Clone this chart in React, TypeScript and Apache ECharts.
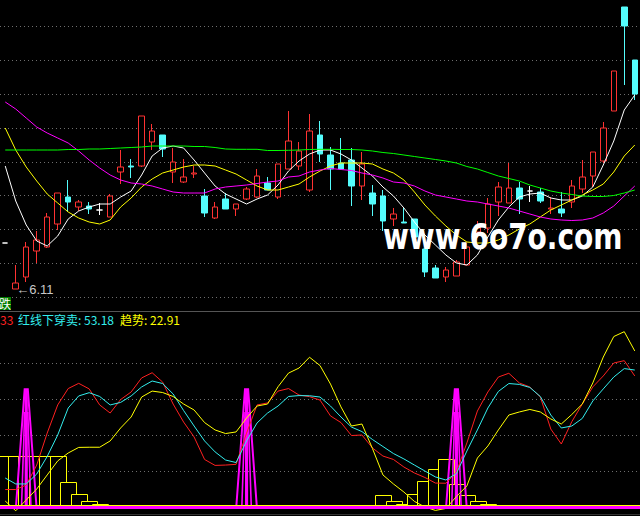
import React, { useEffect, useRef } from 'react';
import * as echarts from 'echarts';

// ---- categories (61 trading days visible) ----
const categories: string[] = Array.from({ length: 61 }, (_, i) => `K${i + 1}`);

// ---- candles ----
const openP = [6.57, 6.11, 6.23, 6.49, 6.53, 6.76, 7.03, 6.93, 6.94, 6.90,
  6.83, 7.28, 7.34, 7.34, 7.58, 7.65, 7.28, 7.18, 7.26, 7.04,
  6.82, 7.01, 6.91, 7.01, 7.03, 7.17, 7.03, 7.31, 7.34, 7.10,
  7.65, 7.45, 7.37, 7.40, 7.14, 7.07, 7.04, 6.81, 6.78, 6.81,
  6.51, 6.32, 6.23, 6.24, 6.35, 6.68, 6.72, 6.98, 6.97, 7.12,
  7.09, 7.08, 6.91, 6.91, 6.98, 7.11, 7.24, 7.39, 7.89, 8.93, 8.40];
const closeP = [6.57, 6.17, 6.53, 6.60, 6.83, 7.07, 6.98, 6.98, 6.91, 6.90,
  7.04, 7.33, 7.33, 7.84, 7.69, 7.51, 7.38, 7.23, 7.27, 6.87,
  6.93, 6.91, 6.96, 7.11, 7.24, 7.10, 7.36, 7.59, 7.49, 7.69,
  7.46, 7.31, 7.31, 7.14, 7.36, 6.96, 6.79, 6.86, 6.77, 6.63,
  6.28, 6.22, 6.30, 6.38, 6.53, 6.72, 6.96, 7.13, 7.12, 7.01,
  7.09, 6.99, 6.92, 6.87, 7.14, 7.23, 7.48, 7.72, 8.29, 8.74, 8.06];
const lowP = [6.57, 6.11, 6.18, 6.37, 6.52, 6.70, 6.88, 6.89, 6.86, 6.85,
  6.83, 7.16, 7.22, 7.33, 7.50, 7.43, 7.17, 7.17, 7.22, 6.83,
  6.81, 6.91, 6.84, 7.00, 7.02, 7.10, 7.01, 7.31, 7.30, 7.08,
  7.38, 7.10, 7.30, 6.94, 7.00, 6.84, 6.69, 6.74, 6.77, 6.62,
  6.23, 6.22, 6.18, 6.24, 6.35, 6.62, 6.67, 6.84, 6.97, 6.86,
  6.98, 6.97, 6.86, 6.83, 6.92, 7.07, 7.13, 7.37, 7.89, 8.15, 8.00];
const highP = [6.57, 6.35, 6.58, 6.69, 6.87, 7.07, 7.20, 7.00, 6.98, 6.97,
  7.06, 7.50, 7.41, 7.84, 7.76, 7.65, 7.52, 7.41, 7.34, 7.11,
  6.98, 7.07, 6.96, 7.13, 7.31, 7.23, 7.36, 7.89, 7.58, 7.86,
  7.79, 7.53, 7.62, 7.52, 7.48, 7.15, 7.10, 6.92, 6.92, 6.81,
  6.51, 6.35, 6.33, 6.40, 6.57, 6.79, 7.02, 7.18, 7.37, 7.18,
  7.14, 7.12, 7.03, 7.08, 7.20, 7.40, 7.48, 7.78, 8.29, 8.93, 8.40];

// ---- moving averages (top panel) ----
const maWhite = [7.34, 6.99, 6.75, 6.59, 6.54, 6.64, 6.81, 6.89, 6.93, 6.96,
  6.96, 7.03, 7.09, 7.25, 7.44, 7.52, 7.54, 7.52, 7.40, 7.27,
  7.14, 7.06, 7.01, 6.96, 7.01, 7.05, 7.15, 7.29, 7.39, 7.46,
  7.50, 7.50, 7.46, 7.40, 7.32, 7.24, 7.13, 7.04, 6.92, 6.78,
  6.65, 6.55, 6.45, 6.37, 6.35, 6.45, 6.63, 6.80, 6.93, 7.03,
  7.06, 7.07, 7.02, 7.00, 7.00, 7.04, 7.13, 7.35, 7.59, 7.90, 8.05];
const maYellow = [7.72, 7.50, 7.33, 7.19, 7.06, 6.97, 6.88, 6.82, 6.78, 6.76,
  6.80, 6.93, 7.02, 7.13, 7.21, 7.27, 7.30, 7.33, 7.35, 7.35,
  7.34, 7.30, 7.26, 7.20, 7.14, 7.10, 7.10, 7.13, 7.16, 7.23,
  7.29, 7.34, 7.37, 7.37, 7.37, 7.36, 7.31, 7.27, 7.20, 7.08,
  6.95, 6.84, 6.74, 6.65, 6.58, 6.57, 6.57, 6.60, 6.65, 6.71,
  6.76, 6.83, 6.90, 6.95, 7.00, 7.05, 7.10, 7.16, 7.28, 7.44, 7.55];
const maMagenta = [7.98, 7.91, 7.82, 7.73, 7.67, 7.62, 7.57, 7.49, 7.40, 7.32,
  7.25, 7.20, 7.17, 7.16, 7.14, 7.11, 7.08, 7.07, 7.07, 7.07,
  7.11, 7.13, 7.14, 7.15, 7.165, 7.18, 7.19, 7.23, 7.24, 7.28,
  7.30, 7.315, 7.305, 7.295, 7.27, 7.25, 7.22, 7.18, 7.17, 7.14,
  7.09, 7.05, 7.03, 7.01, 6.99, 6.98, 6.96, 6.94, 6.92, 6.89,
  6.86, 6.83, 6.81, 6.80, 6.795, 6.80, 6.82, 6.87, 6.94, 7.04, 7.14];
const maGreen = [7.50, 7.50, 7.50, 7.50, 7.50, 7.50, 7.505, 7.505, 7.51, 7.51,
  7.515, 7.52, 7.525, 7.53, 7.54, 7.54, 7.54, 7.54, 7.535, 7.535,
  7.525, 7.51, 7.507, 7.507, 7.507, 7.495, 7.495, 7.497, 7.50, 7.505,
  7.507, 7.507, 7.505, 7.505, 7.50, 7.49, 7.475, 7.465, 7.45, 7.435,
  7.42, 7.405, 7.39, 7.37, 7.335, 7.31, 7.275, 7.24, 7.215, 7.19,
  7.15, 7.12, 7.09, 7.07, 7.055, 7.04, 7.035, 7.035, 7.045, 7.07, 7.10];

// ---- indicator panel ----
const lineRed = [9.7, 9.7, 12.2, 23.3, 41.1, 56.7, 65.8, 68.7, 65.6, 56.7,
  52.2, 59.7, 63.9, 71.7, 74.6, 69.4, 57.2, 47.2, 38.9, 26.4,
  23.1, 23.3, 23.7, 41.0, 56.7, 57.8, 64.4, 65.8, 62.2, 61.3,
  59.4, 50.6, 46.9, 39.7, 40.0, 32.8, 28.3, 26.4, 22.2, 18.9,
  16.4, 13.3, 13.2, 19.4, 35.6, 53.3, 63.9, 72.2, 74.3, 68.9,
  66.7, 61.1, 43.3, 35.0, 47.4, 57.2, 66.7, 72.8, 80.0, 81.3, 72.8];
const lineCyan = [16.1, 12.8, 12.8, 18.3, 28.1, 40.0, 55.0, 61.7, 63.5, 61.4,
  56.7, 58.1, 61.7, 66.7, 70.0, 68.6, 62.8, 53.6, 45.0, 36.7,
  30.6, 26.1, 24.7, 36.7, 46.7, 52.2, 56.1, 61.4, 61.9, 61.8,
  61.1, 56.1, 50.0, 44.4, 41.9, 37.5, 33.6, 29.7, 26.7, 23.3,
  20.0, 16.7, 15.0, 18.6, 31.1, 42.8, 55.0, 64.2, 68.6, 68.1,
  66.4, 61.4, 51.1, 43.9, 45.0, 49.2, 58.9, 65.6, 72.2, 76.9, 76.1];
const lineYellow = [3.3, -2.1, 3.9, 10.0, 17.8, 25.6, 30.0, 33.1, 33.2, 33.2,
  36.7, 43.9, 50.0, 61.1, 64.4, 63.6, 61.4, 57.2, 53.9, 46.9,
  42.8, 40.8, 41.7, 49.4, 56.1, 57.2, 66.8, 74.4, 77.2, 83.2,
  78.6, 68.3, 55.6, 45.0, 46.1, 32.5, 17.8, 12.8, 8.3, 3.1,
  0.0, -1.9, -0.8, 5.8, 11.7, 27.2, 33.9, 42.8, 51.1, 52.8,
  54.2, 52.8, 48.9, 46.1, 51.4, 57.2, 68.9, 83.3, 94.7, 97.4, 86.7];
const boxValues: (number | null)[] = [28.2, 28.2, 28.2, 28.2, 28.2, 28.2, 13.7, 7.2, 3.2, 1.7,
  null, null, null, null, null, null, null, null, null, null,
  null, null, null, null, null, null, null, null, null, null,
  null, null, null, null, null, null, 6.7, 3.2, 1.7, 7.2,
  14.3, 20.9, 26.5, 13.0, 6.7, 3.2, 1.7, null, null, null,
  null, null, null, null, null, null, null, null, null, null, null];
const spikeValues: (number | null)[] = categories.map(() => null);
spikeValues[2] = 65.4;
spikeValues[23] = 65.4;
spikeValues[43] = 65.4;

const headerRed = '33';
const headerCyan = '红线下穿卖: 53.18';
const headerYellow = '趋势: 22.91';
const sideTag = '跌';
const watermark = 'www.6o7o.com';

export default function App() {
  const ref = useRef<HTMLDivElement>(null);
  useEffect(() => {
    document.body.style.margin = '0';
    if (!ref.current) return;
    const chart = echarts.init(ref.current, null, { renderer: 'svg' });

    let minIdx = 0;
    lowP.forEach((v, i) => { if (v < lowP[minIdx]) minIdx = i; });
    const minLow = lowP[minIdx];

    const boxRender = (params: any, api: any) => {
      const v = api.value(1);
      if (v == null || isNaN(v) || v <= 0) return null;
      const idx = api.value(0);
      const base = api.coord([idx, 0]);
      const top = api.coord([idx, v]);
      const w = api.size([1, 0])[0] * 1.5;
      return {
        type: 'rect',
        shape: { x: Math.round(base[0] - w / 2) + 0.5, y: Math.round(top[1]) + 0.5, width: Math.round(w), height: Math.round(base[1] - top[1]) },
        style: { fill: '#000', stroke: '#ffff00', lineWidth: 1 },
      };
    };

    // needle-shaped signal: outer and inner tapered outlines plus a solid core
    const spikeRender = (params: any, api: any) => {
      const v = api.value(1);
      if (v == null || isNaN(v) || v <= 0) return null;
      const idx = api.value(0);
      const base = api.coord([idx, 0]);
      const top = api.coord([idx, v]);
      const bw = api.size([1, 0])[0];
      const H = base[1] - top[1];
      const cx = base[0];
      const outerW = bw * 0.98;
      const innerW = bw * 0.45;
      const coreW = bw * 0.15;
      const innerTop = base[1] - H * 0.8;
      return {
        type: 'group',
        children: [
          {
            type: 'polyline',
            shape: { points: [[cx - outerW, base[1]], [cx - coreW, top[1]], [cx + coreW, top[1]], [cx + outerW, base[1]]] },
            style: { fill: 'none', stroke: '#ff00ff', lineWidth: 2 },
          },
          {
            type: 'polyline',
            shape: { points: [[cx - innerW, base[1]], [cx - coreW, innerTop], [cx + coreW, innerTop], [cx + innerW, base[1]]] },
            style: { fill: 'none', stroke: '#ff00ff', lineWidth: 1.6 },
          },
          {
            type: 'rect',
            shape: { x: cx - coreW, y: top[1], width: coreW * 2, height: H },
            style: { fill: '#ff00ff' },
          },
        ],
      };
    };

    const topGridLine = { show: true, showMaxLine: false, lineStyle: { color: '#6e6e6e', type: [1, 3], width: 1 } };
    const bottomGridLine = {
      show: true, showMaxLine: false,
      lineStyle: { color: ['rgba(0,0,0,0)', '#6e6e6e', 'rgba(0,0,0,0)', 'rgba(0,0,0,0)'], type: [1, 3], width: 1 },
    };
    const hiddenAxisParts = { axisLine: { show: false }, axisTick: { show: false }, axisLabel: { show: false } };
    const maLine = (data: number[], color: string) => ({
      type: 'line', xAxisIndex: 0, yAxisIndex: 0, data, symbol: 'none', showSymbol: false,
      lineStyle: { color, width: 1 }, silent: true,
    });
    const indLine = (data: number[], color: string) => ({
      type: 'line', xAxisIndex: 1, yAxisIndex: 1, data, symbol: 'none', showSymbol: false,
      lineStyle: { color, width: 1 }, silent: true,
    });

    const option: any = {
      animation: false,
      backgroundColor: '#000',
      grid: [
        { left: -1, top: 0, width: 647, height: 297 },
        { left: -1, top: 327, width: 647, height: 189 },
      ],
      xAxis: [
        { type: 'category', gridIndex: 0, data: categories, boundaryGap: true, show: false },
        { type: 'category', gridIndex: 1, data: categories, boundaryGap: true, show: false },
      ],
      yAxis: [
        { type: 'value', gridIndex: 0, min: 6.03, max: 9.0, interval: 0.338, ...hiddenAxisParts, splitLine: topGridLine },
        { type: 'value', gridIndex: 1, min: -5, max: 100, interval: 5, ...hiddenAxisParts, splitLine: bottomGridLine },
      ],
      series: [
        {
          type: 'candlestick', xAxisIndex: 0, yAxisIndex: 0, barWidth: 6, silent: true,
          data: openP.map((o, i) => [o, closeP[i], lowP[i], highP[i]]),
          itemStyle: {
            color: '#000', color0: '#54fcfc', borderColor: '#ff3232', borderColor0: '#54fcfc',
            borderColorDoji: '#ffffff', borderWidth: 1,
          },
          markPoint: {
            symbol: 'rect', symbolSize: 1, silent: true,
            itemStyle: { color: 'rgba(0,0,0,0)' },
            label: {
              show: true, position: 'right', distance: 0, color: '#c8c8c8', fontSize: 13,
              fontFamily: '"Liberation Sans", "DejaVu Sans", sans-serif',
              formatter: '←' + minLow.toFixed(2),
            },
            data: [{ coord: [minIdx, minLow] }],
          },
        },
        maLine(maWhite, '#ffffff'),
        maLine(maYellow, '#ffff00'),
        maLine(maMagenta, '#ff00ff'),
        maLine(maGreen, '#00ff00'),
        {
          type: 'custom', xAxisIndex: 1, yAxisIndex: 1, silent: true,
          renderItem: boxRender,
          encode: { x: 0, y: 1 },
          data: boxValues.map((v, i) => [i, v == null ? 0 : v]),
          markLine: {
            symbol: ['none', 'none'], silent: true, label: { show: false },
            lineStyle: { color: '#ffff00', width: 1, type: 'solid' },
            data: [{ yAxis: 0.8 }],
          },
        },
        indLine(lineRed, '#ff2020'),
        indLine(lineCyan, '#33eeee'),
        indLine(lineYellow, '#ffff00'),
        {
          type: 'custom', xAxisIndex: 1, yAxisIndex: 1, silent: true,
          renderItem: spikeRender,
          encode: { x: 0, y: 1 },
          data: spikeValues.map((v, i) => [i, v == null ? 0 : v]),
          markLine: {
            symbol: ['none', 'none'], silent: true, label: { show: false },
            lineStyle: { color: '#ff00ff', width: 3, type: 'solid' },
            data: [{ yAxis: -0.2 }],
          },
        },
      ],
      graphic: [
        { type: 'line', silent: true, z: 50, shape: { x1: 0, y1: 311.5, x2: 640, y2: 311.5 }, style: { stroke: '#555555', lineWidth: 1 } },
        { type: 'line', silent: true, z: 50, shape: { x1: 0, y1: 514.5, x2: 640, y2: 514.5 }, style: { stroke: '#333333', lineWidth: 1 } },
        { type: 'rect', silent: true, z: 50, shape: { x: 0, y: 297, width: 11, height: 13 }, style: { fill: '#007a00' } },
        { type: 'text', silent: true, z: 51, x: -1, y: 297, style: { text: sideTag, fill: '#ffffff', fontSize: 12, fontFamily: '"Noto Sans CJK SC", sans-serif', verticalAlign: 'top' } },
        { type: 'text', silent: true, z: 51, x: 0, y: 313, style: { text: headerRed, fill: '#ff2020', fontSize: 12, fontFamily: '"Noto Sans CJK SC", sans-serif', verticalAlign: 'top' } },
        { type: 'text', silent: true, z: 51, x: 18, y: 313, style: { text: headerCyan, fill: '#33eeee', fontSize: 12, fontFamily: '"Noto Sans CJK SC", sans-serif', verticalAlign: 'top' } },
        { type: 'text', silent: true, z: 51, x: 120, y: 313, style: { text: headerYellow, fill: '#ffff00', fontSize: 12, fontFamily: '"Noto Sans CJK SC", sans-serif', verticalAlign: 'top' } },
        {
          type: 'text', silent: true, z: 100, x: 383, y: 237, scaleY: 1.25,
          style: { text: watermark, fill: '#ffffff', fontSize: 28, fontWeight: 'bold', fontFamily: '"DejaVu Sans", sans-serif', verticalAlign: 'middle' },
        },
      ],
    };
    chart.setOption(option);
    return () => chart.dispose();
  }, []);
  return <div ref={ref} style={{ position: 'absolute', left: 0, top: 0, width: 640, height: 516, background: '#000' }} />;
}
